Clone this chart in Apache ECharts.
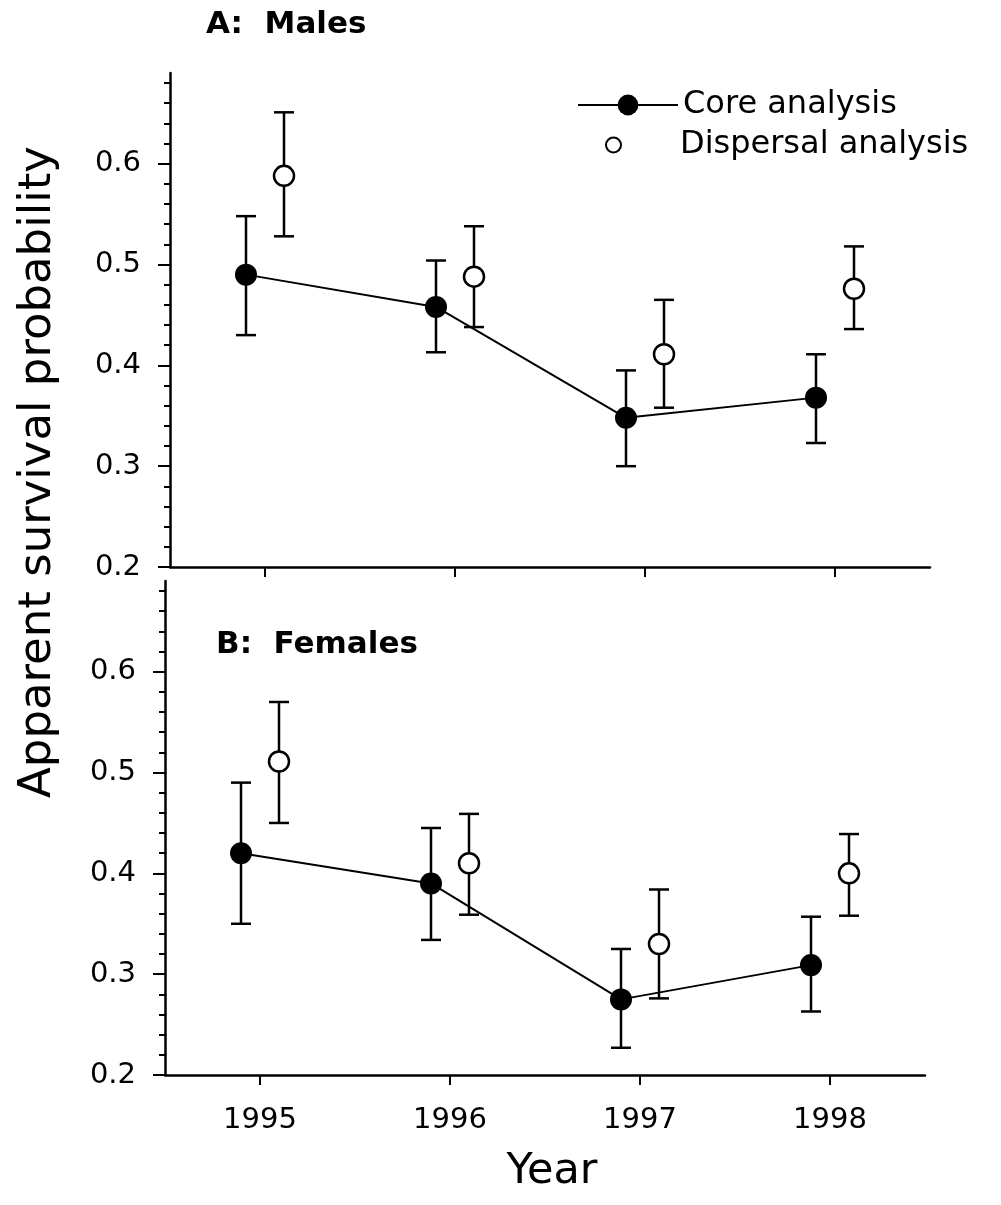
<!DOCTYPE html>
<html>
<head>
<meta charset="utf-8">
<script src="https://cdn.jsdelivr.net/npm/echarts@6/dist/echarts.min.js"></script>
<style>
  html, body { margin: 0; padding: 0; background: #fff; }
  #chart { width: 1001px; height: 1205px; }
</style>
</head>
<body>
<div id="chart"></div>
<script>
// survival estimates
const years = [1995, 1996, 1997, 1998]
const yMajorTicks = [0.2, 0.3, 0.4, 0.5, 0.6]

const malesCore = [0.490, 0.458, 0.348, 0.368]
const malesCoreLow = [0.430, 0.413, 0.300, 0.323]
const malesCoreHigh = [0.548, 0.504, 0.395, 0.411]
const malesDisp = [0.588, 0.488, 0.411, 0.476]
const malesDispLow = [0.528, 0.438, 0.358, 0.436]
const malesDispHigh = [0.651, 0.538, 0.465, 0.518]

const femalesCore = [0.420, 0.390, 0.275, 0.309]
const femalesCoreLow = [0.350, 0.334, 0.227, 0.263]
const femalesCoreHigh = [0.490, 0.445, 0.325, 0.357]
const femalesDisp = [0.511, 0.410, 0.330, 0.400]
const femalesDispLow = [0.450, 0.359, 0.276, 0.358]
const femalesDispHigh = [0.570, 0.459, 0.384, 0.439]

const FONT = 'DejaVu Sans'
const SHIFT = 0.1 // core drawn left of the year, dispersal right

// minor ticks every 0.02 that are not major ticks
const yMinorTicks = []
for (let i = 11; i <= 34; i++) {
  if (i % 5 !== 0) yMinorTicks.push(+(i * 0.02).toFixed(2))
}

const points = (vals, shift) => vals.map((v, i) => [years[i] + shift, v])
const bars = (low, high, shift) => low.map((lo, i) => [years[i] + shift, lo, high[i]])

const renderErrorBar = (params, api) => {
  const x = api.value(0)
  const top = api.coord([x, api.value(2)])
  const bot = api.coord([x, api.value(1)])
  const cap = 10
  const style = { stroke: '#000', lineWidth: 2.5 }
  return {
    type: 'group',
    children: [
      { type: 'line', shape: { x1: top[0], y1: top[1], x2: bot[0], y2: bot[1] }, style },
      { type: 'line', shape: { x1: top[0] - cap, y1: top[1], x2: top[0] + cap, y2: top[1] }, style },
      { type: 'line', shape: { x1: bot[0] - cap, y1: bot[1], x2: bot[0] + cap, y2: bot[1] }, style }
    ]
  }
}

const makeX = (gridIndex, showLabels) => ({
  type: 'value',
  gridIndex,
  min: 1994.5,
  max: 1998.5,
  splitLine: { show: false },
  axisLine: { onZero: false, lineStyle: { color: '#000', width: 2.5 } },
  axisTick: { show: true, customValues: years, length: 10, lineStyle: { color: '#000', width: 2 } },
  axisLabel: {
    show: showLabels,
    customValues: years,
    margin: 31,
    color: '#000',
    fontFamily: FONT,
    fontSize: 29,
    formatter: v => String(v)
  }
})

const makeYMajor = (gridIndex) => ({
  type: 'value',
  gridIndex,
  min: 0.2,
  max: 0.69,
  splitLine: { show: false },
  axisLine: { show: true, onZero: false, lineStyle: { color: '#000', width: 2.5 } },
  axisTick: { show: true, customValues: yMajorTicks, length: 12, lineStyle: { color: '#000', width: 2 } },
  axisLabel: {
    customValues: yMajorTicks,
    margin: 29,
    color: '#000',
    fontFamily: FONT,
    fontSize: 29,
    formatter: v => v.toFixed(1)
  }
})

const makeYMinor = (gridIndex) => ({
  type: 'value',
  gridIndex,
  min: 0.2,
  max: 0.69,
  position: 'left',
  splitLine: { show: false },
  axisLine: { show: false, onZero: false },
  axisTick: { show: true, customValues: yMinorTicks, length: 6, lineStyle: { color: '#000', width: 2 } },
  axisLabel: { show: false }
})

const panelSeries = (xi, yi, core, coreLow, coreHigh, disp, dispLow, dispHigh) => [
  {
    type: 'custom',
    xAxisIndex: xi,
    yAxisIndex: yi,
    renderItem: renderErrorBar,
    data: bars(coreLow, coreHigh, -SHIFT),
    z: 1
  },
  {
    type: 'custom',
    xAxisIndex: xi,
    yAxisIndex: yi,
    renderItem: renderErrorBar,
    data: bars(dispLow, dispHigh, SHIFT),
    z: 1
  },
  {
    name: 'Core analysis',
    type: 'line',
    xAxisIndex: xi,
    yAxisIndex: yi,
    data: points(core, -SHIFT),
    symbol: 'circle',
    symbolSize: 22,
    itemStyle: { color: '#000' },
    lineStyle: { color: '#000', width: 2 },
    z: 3
  },
  {
    name: 'Dispersal analysis',
    type: 'scatter',
    xAxisIndex: xi,
    yAxisIndex: yi,
    data: points(disp, SHIFT),
    symbol: 'circle',
    symbolSize: 20,
    itemStyle: { color: '#fff', borderColor: '#000', borderWidth: 2.5, opacity: 1 },
    z: 3
  }
]

const chart = echarts.init(document.getElementById('chart'), null, { renderer: 'canvas' })

const option = {
  animation: false,
  backgroundColor: '#fff',
  grid: [
    { left: 170, top: 73, width: 760, height: 494 },
    { left: 165, top: 581, width: 760, height: 494 }
  ],
  xAxis: [makeX(0, false), makeX(1, true)],
  yAxis: [makeYMajor(0), makeYMinor(0), makeYMajor(1), makeYMinor(1)],
  legend: [
    {
      data: ['Core analysis'],
      left: 572,
      top: 84,
      itemWidth: 100,
      itemHeight: 26,
      textStyle: { color: '#000', fontFamily: FONT, fontSize: 32 }
    },
    {
      data: ['Dispersal analysis'],
      left: 600,
      top: 124,
      itemWidth: 123,
      itemHeight: 15,
      textStyle: { color: '#000', fontFamily: FONT, fontSize: 32 }
    }
  ],
  graphic: [
    {
      type: 'text', left: 206, top: 9,
      style: { text: 'A:  Males', font: 'bold 31px "DejaVu Sans"', fill: '#000' }
    },
    {
      type: 'text', left: 216, top: 629,
      style: { text: 'B:  Females', font: 'bold 31px "DejaVu Sans"', fill: '#000' }
    },
    {
      type: 'text', x: 552, y: 1172,
      style: { text: 'Year', font: '43px "DejaVu Sans"', fill: '#000', align: 'center', verticalAlign: 'middle' }
    },
    {
      type: 'text', x: 38, y: 472, rotation: Math.PI / 2,
      style: { text: 'Apparent survival probability', font: '45px "DejaVu Sans"', fill: '#000', align: 'center', verticalAlign: 'middle' }
    }
  ],
  series: [
    ...panelSeries(0, 0, malesCore, malesCoreLow, malesCoreHigh, malesDisp, malesDispLow, malesDispHigh),
    ...panelSeries(1, 2, femalesCore, femalesCoreLow, femalesCoreHigh, femalesDisp, femalesDispLow, femalesDispHigh)
  ]
}

chart.setOption(option)
</script>
</body>
</html>
